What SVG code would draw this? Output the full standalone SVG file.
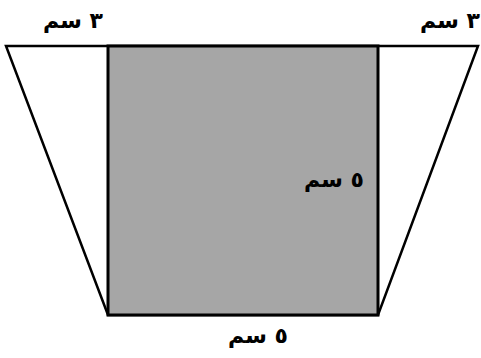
<svg xmlns="http://www.w3.org/2000/svg" width="481" height="358" viewBox="0 0 481 358">
<style>
.lbl{font-family:"DejaVu Sans",sans-serif;font-weight:bold;font-size:22px;fill:#000;direction:rtl;unicode-bidi:embed}
</style>
<rect width="481" height="358" fill="#fff"/>
<g id="trapezoid">
<polygon points="6,46 478,46 378,315 108,315" fill="#fff" stroke="#000" stroke-width="2.5" stroke-linejoin="miter"/>
</g>
<g id="square">
<rect x="108" y="46" width="270" height="269" fill="#a6a6a6" stroke="#000" stroke-width="3"/>
</g>
<g id="labels">
<text class="lbl" x="103" y="28" text-anchor="start">٣ سم</text>
<text class="lbl" x="480" y="28" text-anchor="start">٣ سم</text>
<text class="lbl" x="364" y="187" text-anchor="start">٥ سم</text>
<text class="lbl" x="288" y="343" text-anchor="start">٥ سم</text>
</g>
</svg>
